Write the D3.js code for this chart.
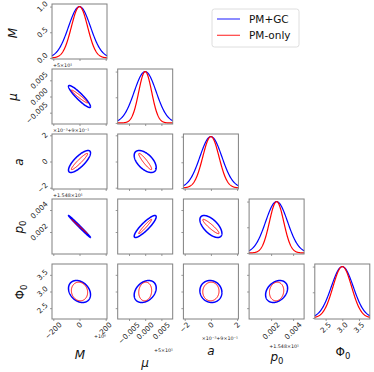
<!DOCTYPE html>
<html><head><meta charset="utf-8">
<script src="https://cdn.jsdelivr.net/npm/d3@7"></script>
<style>body{margin:0;background:#fff}svg{display:block}text{font-family:"DejaVu Sans",sans-serif}</style>
</head><body><svg id="c" width="374" height="372"></svg>
<script>
// ---- data ----
const params = ["M", "μ", "a", "p0", "Φ0"];
const centers = [0, 0, 0, 0.0025, 3.0];
const sigmaGC = [84, 0.0034, 0.84, 0.001, 0.33];      // PM+GC
const sigmaPM = [62, 0.002, 0.62, 0.00065, 0.28];     // PM-only
// correlation coefficients (row i, col j), i>j
const corrGC = [
  [],
  [-0.92],
  [0.78, -0.55],
  [-0.995, 0.88, -0.62],
  [-0.28, 0.32, -0.08, 0.3]
];
const corrPM = [
  [],
  [-0.97],
  [0.95, -0.93],
  [-0.998, 0.97, -0.93],
  [-0.1, 0.1, 0.03, 0.1]
];
const xTicks = [[-200, 0, 200], [-0.005, 0, 0.005], [-2, 0, 2], [0.002, 0.004], [2.5, 3.0, 3.5]];
const xTickLabels = [["−200", "0", "200"], ["−0.005", "0.000", "0.005"], ["−2", "0", "2"], ["0.002", "0.004"], ["2.5", "3.0", "3.5"]];
const diagTicks = [0, 0.5, 1.0];
const diagTickLabels = ["0.0", "0.5", "1.0"];
const offsetTexts = ["+10⁶", "+5×10¹", "×10⁻³+9×10⁻¹", "+1.548×10¹", ""];
const seriesNames = ["PM+GC", "PM-only"];
const seriesColors = ["blue", "red"];
const spanSigma = 2.5;

// ---- layout ----
const svg = d3.select("#c");
const n = params.length;
const left0 = 52, top0 = 4, colStep = 65.7, rowStep = 65, size = 55;
const frameColor = "#808080";
const tickFs = 7.3;

const xs = params.map((p, k) => d3.scaleLinear()
  .domain([centers[k] - spanSigma * sigmaGC[k], centers[k] + spanSigma * sigmaGC[k]])
  .range([0, size]));
const ys = params.map((p, k) => d3.scaleLinear()
  .domain([centers[k] - spanSigma * sigmaGC[k], centers[k] + spanSigma * sigmaGC[k]])
  .range([size, 0]));
const yDiag = d3.scaleLinear().domain([-0.02, 1.05]).range([size, 0]);

const sigmas = [sigmaGC, sigmaPM];
const corrs = [corrGC, corrPM];
const widths2d = [1.5, 1.0];

for (let i = 0; i < n; i++) {
  for (let j = 0; j <= i; j++) {
    const g = svg.append("g").attr("transform", `translate(${left0 + j * colStep},${top0 + i * rowStep})`);
    const x = xs[j];
    const y = (i === j) ? yDiag : ys[i];
    const ax = d3.axisBottom(x).tickValues(xTicks[j]).tickSize(2).tickFormat("");
    const gx = g.append("g").attr("transform", `translate(0,${size})`).call(ax);
    const ay = d3.axisLeft(y).tickValues(i === j ? diagTicks : xTicks[i]).tickSize(2).tickFormat("");
    const gy = g.append("g").call(ay);
    [gx, gy].forEach(a => { a.select(".domain").remove(); a.selectAll("line").attr("stroke", frameColor).attr("stroke-width", 0.8); });

    if (i === j) {
      [0, 1].forEach(s => {
        const sd = sigmas[s][j];
        const pts = d3.range(0, 201).map(t => {
          const v = x.domain()[0] + (x.domain()[1] - x.domain()[0]) * t / 200;
          return [v, Math.exp(-0.5 * Math.pow((v - centers[j]) / sd, 2))];
        });
        g.append("path").datum(pts)
          .attr("d", d3.line().x(d => x(d[0])).y(d => y(d[1])))
          .attr("fill", "none").attr("stroke", seriesColors[s]).attr("stroke-width", 1.2);
      });
    } else {
      [0, 1].forEach(s => {
        const sx = sigmas[s][j], sy = sigmas[s][i], r = corrs[s][i][j];
        const pts = d3.range(0, 181).map(t => {
          const a = 2 * Math.PI * t / 180;
          return [centers[j] + sx * Math.cos(a), centers[i] + sy * (r * Math.cos(a) + Math.sqrt(1 - r * r) * Math.sin(a))];
        });
        g.append("path").datum(pts)
          .attr("d", d3.line().x(d => x(d[0])).y(d => y(d[1])))
          .attr("fill", "none").attr("stroke", seriesColors[s]).attr("stroke-width", widths2d[s]);
      });
    }
    g.append("rect").attr("width", size).attr("height", size)
      .attr("fill", "none").attr("stroke", frameColor).attr("stroke-width", 1);

    if (j === 0) {
      const vals = i === 0 ? diagTicks : xTicks[i];
      const labs = i === 0 ? diagTickLabels : xTickLabels[i];
      vals.forEach((v, k) => {
        const t = g.append("text").attr("text-anchor", "middle").attr("dominant-baseline", "central")
          .attr("font-size", tickFs).attr("fill", "#222").text(labs[k]);
        const len = t.node().getComputedTextLength();
        const half = (len + tickFs * 0.8) * 0.7071 / 2;
        t.attr("transform", `translate(${-3.5 - half},${y(v)}) rotate(-45)`);
      });
      if (i > 0 && offsetTexts[i]) {
        g.append("text").attr("x", 1).attr("y", -2).attr("font-size", 4.8).attr("fill", "#222").text(offsetTexts[i]);
      }
    }
    if (i === n - 1) {
      xTicks[j].forEach((v, k) => {
        const t = g.append("text").attr("text-anchor", "middle").attr("dominant-baseline", "central")
          .attr("font-size", tickFs).attr("fill", "#222").text(xTickLabels[j][k]);
        const len = t.node().getComputedTextLength();
        const half = (len + tickFs * 0.8) * 0.7071 / 2;
        t.attr("transform", `translate(${x(v)},${size + 2.5 + half}) rotate(-45)`);
      });
    }
  }
}

const xOffPos = [[106, 338], [173, 352], [238, 340], [299, 348]];
xOffPos.forEach((p, k) => {
  svg.append("text").attr("x", p[0]).attr("y", p[1]).attr("text-anchor", "end")
    .attr("font-size", 4.8).attr("fill", "#222").text(offsetTexts[k]);
});

function label(sel, k) {
  const t = sel.attr("font-size", 12).attr("fill", "#111").attr("text-anchor", "middle");
  if (k === 0) t.append("tspan").attr("font-style", "italic").text("M");
  if (k === 1) t.append("tspan").attr("font-style", "italic").text("μ");
  if (k === 2) t.append("tspan").attr("font-style", "italic").text("a");
  if (k === 3) { t.append("tspan").attr("font-style", "italic").text("p"); t.append("tspan").attr("font-size", 8.5).attr("dy", 3).text("0"); }
  if (k === 4) { t.append("tspan").text("Φ"); t.append("tspan").attr("font-size", 8.5).attr("dy", 3).text("0"); }
}
const yLabPos = [[13, 33], [13, 97], [19, 162], [19, 227], [20, 292]];
yLabPos.forEach((p, k) => {
  label(svg.append("text").attr("transform", `translate(${p[0] + 4},${p[1]}) rotate(-90)`), k);
});
const xLabPos = [[80, 359], [145, 367], [211, 355], [277, 361], [343, 356]];
xLabPos.forEach((p, k) => {
  label(svg.append("text").attr("x", p[0]).attr("y", p[1]), k);
});

const lg = svg.append("g").attr("transform", "translate(212,9)");
lg.append("rect").attr("width", 87).attr("height", 38).attr("rx", 2.5)
  .attr("fill", "#fff").attr("stroke", "#d6d6d6").attr("stroke-width", 0.8);
seriesNames.forEach((nm, k) => {
  const yy = 10 + k * 16.3;
  lg.append("line").attr("x1", 5).attr("x2", 28).attr("y1", yy).attr("y2", yy)
    .attr("stroke", seriesColors[k]).attr("stroke-width", 1.2).attr("opacity", 0.75);
  lg.append("text").attr("x", 37).attr("y", yy + 3.8).attr("font-size", 10.5).attr("fill", "#111").text(nm);
});
</script></body></html>
